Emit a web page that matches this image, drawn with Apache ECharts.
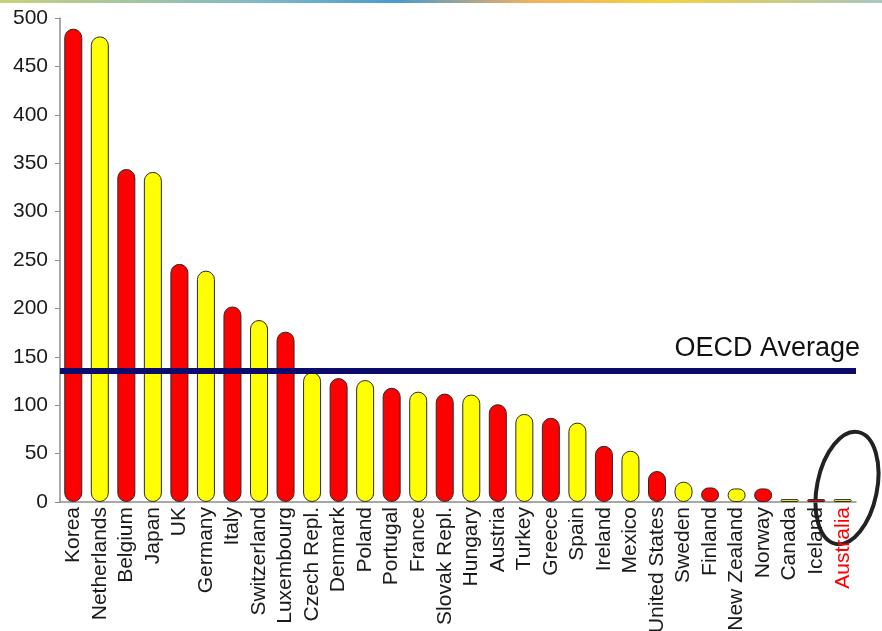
<!DOCTYPE html>
<html>
<head>
<meta charset="utf-8">
<script src="https://cdn.jsdelivr.net/npm/echarts@6/dist/echarts.min.js"></script>
<style>
html,body{margin:0;padding:0;background:#fff;}
#chart{width:882px;height:631px;}
</style>
</head>
<body>
<div id="chart"></div>
<script>
var countries = ['Korea','Netherlands','Belgium','Japan','UK','Germany','Italy','Switzerland','Luxembourg','Czech Repl.','Denmark','Poland','Portugal','France','Slovak Repl.','Hungary','Austria','Turkey','Greece','Spain','Ireland','Mexico','United States','Sweden','Finland','New Zealand','Norway','Canada','Iceland','Australia'];
var values = [489,481,344,341,246,239,202,188,176,134,128,126,118,114,112,111,101,91,87,82,58,53,32,21,15,14,14,3,3,3];
var barColors = ['#ff0000','#ffff00','#ff0000','#ffff00','#ff0000','#ffff00','#ff0000','#ffff00','#ff0000','#ffff00','#ff0000','#ffff00','#ff0000','#ffff00','#ff0000','#ffff00','#ff0000','#ffff00','#ff0000','#ffff00','#ff0000','#ffff00','#ff0000','#ffff00','#ff0000','#ffff00','#ff0000','#ffff00','#ff0000','#ffff00'];
var oecdAverage = 136;
var yTicks = {min:0, max:500, interval:50};
var highlighted = 'Australia';

var chart = echarts.init(document.getElementById('chart'), null, {renderer:'canvas'});
var font = 'Liberation Sans, Arial, sans-serif';
chart.setOption({
  animation:false,
  backgroundColor:'#ffffff',
  grid:{left:60, right:26, top:18, bottom:129, containLabel:false, outerBoundsMode:'none'},
  xAxis:{
    type:'category',
    data:countries.map(function(c){ return c===highlighted ? {value:c, textStyle:{color:'#ff0000'}} : c; }),
    axisLine:{show:true, lineStyle:{color:'#8c8c8c', width:1.5}},
    axisTick:{show:false},
    axisLabel:{rotate:90, interval:0, fontSize:21, fontFamily:font, color:'#1a1a1a', margin:5}
  },
  yAxis:{
    type:'value', min:yTicks.min, max:yTicks.max, interval:yTicks.interval,
    axisLine:{show:true, lineStyle:{color:'#8c8c8c', width:1.5}},
    axisTick:{show:true, length:5, lineStyle:{color:'#8c8c8c'}},
    splitLine:{show:false},
    axisLabel:{fontSize:21, fontFamily:font, color:'#1a1a1a', margin:12}
  },
  series:[{
    type:'bar',
    barWidth:18,
    data:values.map(function(v,i){ return {value:v, itemStyle:{color:barColors[i]}}; }),
    itemStyle:{borderColor:'#2a2a2a', borderWidth:1, borderRadius:9},
    markLine:{
      silent:true,
      symbol:['none','none'],
      lineStyle:{color:'#0b0b6e', width:6, type:'solid'},
      label:{show:true, position:'insideEndTop', formatter:'OECD Average', fontSize:27, fontFamily:font, color:'#111', distance:[-4,8]},
      data:[{yAxis:oecdAverage}]
    }
  }],
  graphic:[
    {type:'rect', left:0, top:0, shape:{width:882, height:3}, style:{fill:new echarts.graphic.LinearGradient(0,0,1,0,[{offset:0,color:'#c8d27a'},{offset:0.3,color:'#7fb8c8'},{offset:0.45,color:'#4a9ad0'},{offset:0.6,color:'#f0b060'},{offset:0.75,color:'#f5d040'},{offset:1,color:'#a8c8c0'}])}, silent:true},
    {type:'ellipse', x:847, y:488, rotation:-0.2, shape:{cx:0, cy:0, rx:30, ry:57}, style:{fill:'none', stroke:'#222', lineWidth:4}, silent:true}
  ]
});
</script>
</body>
</html>
